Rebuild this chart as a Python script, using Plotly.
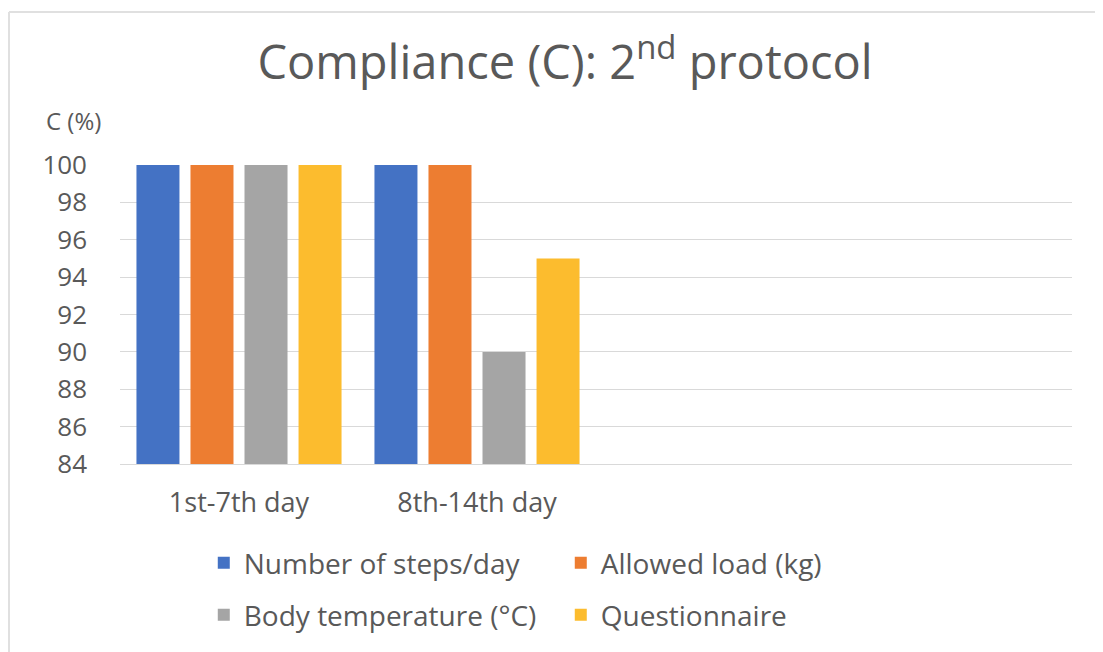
import plotly.graph_objects as go

categories = ["1st-7th day", "8th-14th day"]
series_names = ["Number of steps/day", "Allowed load (kg)", "Body temperature (°C)", "Questionnaire"]
steps = [100, 100]
load = [100, 100]
temperature = [100, 90]
questionnaire = [100, 95]
y_ticks = [84, 86, 88, 90, 92, 94, 96, 98, 100]

colors = ["#4472C4", "#ED7D31", "#A5A5A5", "#FCBC2E"]
values = [steps, load, temperature, questionnaire]
legend_ids = ["legend", "legend", "legend2", "legend2"]

TXT = "#595959"
FONT = "Open Sans"

fig = go.Figure()
for name, vals, col, lg in zip(series_names, values, colors, legend_ids):
    fig.add_trace(go.Bar(
        x=categories, y=vals, name=name, marker_color=col,
        marker_line_width=0, legend=lg,
    ))

fig.update_layout(
    width=1103, height=652,
    margin=dict(l=112, r=39, t=157, b=196),
    paper_bgcolor="white", plot_bgcolor="white",
    barmode="group", bargap=0.092, bargroupgap=0.204,
    title=dict(text="Compliance (C): 2<sup>nd</sup> protocol", x=0.505, xanchor="center",
               y=0.916, yanchor="middle",
               font=dict(family=FONT, size=47, color=TXT)),
    xaxis=dict(type="category", categoryorder="array", categoryarray=categories,
               range=[-0.5, 3.5], showgrid=False, showline=True, linecolor="#D9D9D9",
               linewidth=1, ticks="", ticklabelstandoff=15,
               tickfont=dict(family=FONT, size=27, color=TXT)),
    yaxis=dict(range=[84, 100], tickvals=y_ticks, showgrid=True, gridcolor="#D9D9D9",
               gridwidth=1, zeroline=False, showline=False, ticks="",
               ticklabelstandoff=32,
               tickfont=dict(family=FONT, size=26, color=TXT)),
    legend=dict(orientation="h", x=0.088, y=-0.331, xanchor="left", yanchor="middle",
                entrywidth=312, font=dict(family=FONT, size=28, color=TXT),
                bgcolor="rgba(0,0,0,0)"),
    legend2=dict(orientation="h", x=0.088, y=-0.505, xanchor="left", yanchor="middle",
                 entrywidth=312, font=dict(family=FONT, size=28, color=TXT),
                 bgcolor="rgba(0,0,0,0)"),
    showlegend=True,
)

fig.add_annotation(text="C (%)", xref="paper", yref="paper", x=-0.049, y=1.15,
                   xanchor="center", yanchor="middle", showarrow=False,
                   font=dict(family=FONT, size=24, color=TXT))

# faint outer border
fig.add_shape(type="line", xref="paper", yref="paper", x0=-0.1166, x1=1.06,
              y0=1.5117, y1=1.5117, line=dict(color="#E0E0E0", width=2))
fig.add_shape(type="line", xref="paper", yref="paper", x0=-0.1166, x1=-0.1166,
              y0=-0.65, y1=1.5117, line=dict(color="#E0E0E0", width=2))

fig.write_html("out.html")
